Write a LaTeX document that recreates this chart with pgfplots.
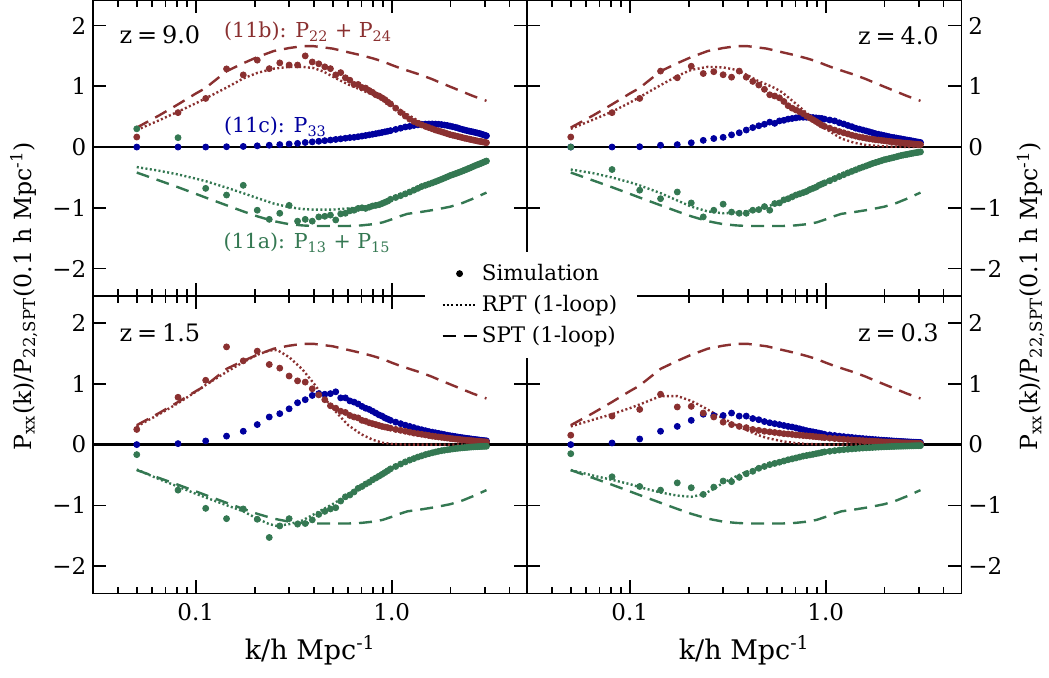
\documentclass[border=0pt]{standalone}
\usepackage{fontspec}
\setmainfont{DejaVu Serif}
\usepackage{pgfplots}
\usepackage{pgfplotstable}
\pgfplotsset{compat=1.18}

\definecolor{cR}{RGB}{138,48,48}
\definecolor{cB}{RGB}{0,0,158}
\definecolor{cG}{RGB}{52,120,82}

% simulation: k, (11b) red, (11c) blue, (11a) green
\pgfplotstableread{
k r b g
0.0500 0.165 0.000 0.300
0.0812 0.566 0.000 0.154
0.1124 0.800 0.000 -0.680
0.1436 1.286 0.005 -0.790
0.1748 1.187 0.010 -0.630
0.2060 1.430 0.020 -1.040
0.2372 1.290 0.030 -1.190
0.2684 1.385 0.040 -1.090
0.2996 1.350 0.050 -0.960
0.3308 1.350 0.060 -1.220
0.3620 1.500 0.075 -1.190
0.3932 1.400 0.085 -1.220
0.4244 1.370 0.095 -1.150
0.4556 1.320 0.105 -1.140
0.4868 1.290 0.115 -1.120
0.5180 1.187 0.125 -1.200
0.5492 1.225 0.135 -1.100
0.5804 1.140 0.145 -1.090
0.6116 1.100 0.155 -1.050
0.6428 1.030 0.160 -1.040
0.6740 1.030 0.170 -1.010
0.7052 0.980 0.180 -1.000
0.7364 0.970 0.190 -1.010
0.7676 0.930 0.200 -0.990
0.7988 0.900 0.210 -0.970
0.8300 0.860 0.220 -0.960
0.8612 0.840 0.230 -0.950
0.8924 0.810 0.240 -0.930
0.9236 0.780 0.250 -0.910
0.9548 0.740 0.260 -0.890
0.9860 0.710 0.270 -0.860
1.0484 0.640 0.290 -0.830
1.1108 0.570 0.310 -0.800
1.1732 0.510 0.330 -0.770
1.2356 0.460 0.340 -0.740
1.2980 0.420 0.355 -0.710
1.3604 0.390 0.365 -0.680
1.4228 0.365 0.375 -0.650
1.4852 0.340 0.378 -0.630
1.5476 0.320 0.380 -0.610
1.6100 0.300 0.380 -0.590
1.6724 0.280 0.378 -0.570
1.7348 0.265 0.375 -0.550
1.7972 0.250 0.370 -0.530
1.8596 0.235 0.362 -0.510
1.9220 0.220 0.355 -0.490
1.9844 0.205 0.345 -0.470
2.0468 0.195 0.335 -0.455
2.1092 0.185 0.325 -0.440
2.1716 0.175 0.315 -0.425
2.2340 0.165 0.300 -0.410
2.2964 0.155 0.290 -0.395
2.3588 0.145 0.280 -0.380
2.4212 0.138 0.270 -0.365
2.4836 0.130 0.262 -0.350
2.5460 0.122 0.255 -0.335
2.6084 0.115 0.248 -0.320
2.6708 0.108 0.240 -0.305
2.7332 0.100 0.232 -0.292
2.7956 0.095 0.225 -0.280
2.8580 0.090 0.215 -0.268
2.9204 0.085 0.205 -0.255
2.9828 0.078 0.195 -0.242
3.0452 0.072 0.185 -0.230
}\simA

\pgfplotstableread{
k r b g
0.0500 0.165 0.000 0.000
0.0812 0.566 0.000 -0.370
0.1124 0.800 0.005 -0.710
0.1436 1.250 0.030 -0.850
0.1748 1.140 0.040 -0.740
0.2060 1.330 0.070 -0.920
0.2372 1.210 0.110 -1.150
0.2684 1.240 0.140 -1.040
0.2996 1.190 0.160 -0.940
0.3308 1.150 0.200 -1.070
0.3620 1.250 0.235 -1.090
0.3932 1.150 0.280 -1.090
0.4244 1.080 0.320 -1.040
0.4556 1.020 0.350 -1.030
0.4868 0.950 0.375 -0.980
0.5180 0.860 0.410 -1.040
0.5492 0.840 0.390 -0.930
0.5804 0.810 0.430 -0.920
0.6116 0.750 0.440 -0.870
0.6428 0.680 0.460 -0.850
0.6740 0.640 0.470 -0.820
0.7052 0.610 0.480 -0.790
0.7364 0.580 0.490 -0.770
0.7676 0.550 0.490 -0.750
0.7988 0.510 0.490 -0.730
0.8300 0.480 0.490 -0.700
0.8612 0.450 0.485 -0.680
0.8924 0.420 0.480 -0.660
0.9236 0.390 0.475 -0.630
0.9548 0.360 0.470 -0.610
0.9860 0.340 0.460 -0.590
1.0484 0.310 0.445 -0.555
1.1108 0.280 0.430 -0.520
1.1732 0.255 0.400 -0.485
1.2356 0.235 0.380 -0.455
1.2980 0.215 0.355 -0.425
1.3604 0.195 0.335 -0.400
1.4228 0.180 0.310 -0.375
1.4852 0.165 0.295 -0.350
1.5476 0.155 0.280 -0.330
1.6100 0.145 0.265 -0.310
1.6724 0.135 0.250 -0.290
1.7348 0.128 0.235 -0.270
1.7972 0.120 0.220 -0.255
1.8596 0.115 0.210 -0.240
1.9220 0.110 0.200 -0.225
1.9844 0.104 0.190 -0.210
2.0468 0.098 0.180 -0.200
2.1092 0.093 0.170 -0.190
2.1716 0.088 0.160 -0.180
2.2340 0.083 0.155 -0.170
2.2964 0.079 0.148 -0.160
2.3588 0.075 0.140 -0.150
2.4212 0.071 0.135 -0.140
2.4836 0.067 0.128 -0.133
2.5460 0.064 0.120 -0.126
2.6084 0.060 0.115 -0.120
2.6708 0.057 0.110 -0.113
2.7332 0.054 0.103 -0.107
2.7956 0.051 0.097 -0.100
2.8580 0.048 0.090 -0.095
2.9204 0.046 0.085 -0.090
2.9828 0.043 0.080 -0.085
3.0452 0.040 0.075 -0.080
}\simB

\pgfplotstableread{
k r b g
0.0500 0.250 0.000 -0.165
0.0812 0.780 0.016 -0.750
0.1124 1.060 0.060 -1.050
0.1436 1.610 0.140 -1.220
0.1748 1.380 0.220 -1.060
0.2060 1.540 0.330 -1.230
0.2372 1.320 0.455 -1.530
0.2684 1.260 0.510 -1.340
0.2996 1.130 0.590 -1.220
0.3308 1.050 0.690 -1.310
0.3620 1.030 0.740 -1.300
0.3932 0.920 0.810 -1.240
0.4244 0.820 0.840 -1.150
0.4556 0.740 0.830 -1.100
0.4868 0.640 0.840 -1.060
0.5180 0.600 0.870 -1.040
0.5492 0.550 0.770 -0.930
0.5804 0.530 0.770 -0.860
0.6116 0.480 0.720 -0.830
0.6428 0.455 0.700 -0.780
0.6740 0.440 0.670 -0.720
0.7052 0.400 0.630 -0.690
0.7364 0.385 0.600 -0.650
0.7676 0.360 0.580 -0.620
0.7988 0.345 0.550 -0.580
0.8300 0.330 0.520 -0.550
0.8612 0.315 0.490 -0.520
0.8924 0.300 0.470 -0.490
0.9236 0.290 0.440 -0.460
0.9548 0.280 0.420 -0.430
0.9860 0.270 0.400 -0.400
1.0484 0.250 0.370 -0.360
1.1108 0.235 0.345 -0.320
1.1732 0.220 0.320 -0.285
1.2356 0.205 0.300 -0.255
1.2980 0.190 0.280 -0.230
1.3604 0.180 0.260 -0.205
1.4228 0.170 0.245 -0.185
1.4852 0.160 0.230 -0.165
1.5476 0.150 0.215 -0.150
1.6100 0.140 0.205 -0.135
1.6724 0.133 0.195 -0.122
1.7348 0.126 0.185 -0.110
1.7972 0.120 0.175 -0.100
1.8596 0.114 0.165 -0.092
1.9220 0.108 0.155 -0.085
1.9844 0.102 0.147 -0.078
2.0468 0.097 0.140 -0.072
2.1092 0.092 0.133 -0.066
2.1716 0.087 0.126 -0.061
2.2340 0.083 0.120 -0.057
2.2964 0.079 0.114 -0.053
2.3588 0.075 0.108 -0.049
2.4212 0.071 0.103 -0.046
2.4836 0.068 0.098 -0.043
2.5460 0.065 0.093 -0.040
2.6084 0.062 0.088 -0.038
2.6708 0.059 0.084 -0.036
2.7332 0.056 0.080 -0.034
2.7956 0.053 0.076 -0.032
2.8580 0.050 0.072 -0.030
2.9204 0.048 0.068 -0.029
2.9828 0.046 0.065 -0.028
3.0452 0.044 0.062 -0.027
}\simC

\pgfplotstableread{
k r b g
0.0500 0.155 0.000 -0.150
0.0812 0.470 0.027 -0.530
0.1124 0.580 0.093 -0.690
0.1436 0.830 0.220 -0.750
0.1748 0.620 0.300 -0.630
0.2060 0.630 0.400 -0.710
0.2372 0.520 0.500 -0.820
0.2684 0.455 0.480 -0.700
0.2996 0.370 0.480 -0.600
0.3308 0.330 0.520 -0.610
0.3620 0.300 0.470 -0.540
0.3932 0.280 0.470 -0.480
0.4244 0.250 0.430 -0.440
0.4556 0.235 0.410 -0.390
0.4868 0.220 0.380 -0.360
0.5180 0.210 0.360 -0.330
0.5492 0.200 0.345 -0.310
0.5804 0.190 0.330 -0.290
0.6116 0.180 0.315 -0.270
0.6428 0.175 0.300 -0.250
0.6740 0.168 0.290 -0.235
0.7052 0.160 0.275 -0.220
0.7364 0.155 0.260 -0.205
0.7676 0.150 0.245 -0.190
0.7988 0.145 0.230 -0.180
0.8300 0.140 0.220 -0.170
0.8612 0.135 0.210 -0.160
0.8924 0.130 0.200 -0.150
0.9236 0.125 0.190 -0.140
0.9548 0.120 0.180 -0.130
0.9860 0.115 0.170 -0.120
1.0484 0.107 0.160 -0.110
1.1108 0.100 0.150 -0.100
1.1732 0.094 0.140 -0.090
1.2356 0.088 0.132 -0.083
1.2980 0.083 0.125 -0.077
1.3604 0.078 0.118 -0.071
1.4228 0.074 0.111 -0.066
1.4852 0.070 0.105 -0.061
1.5476 0.066 0.100 -0.057
1.6100 0.062 0.095 -0.053
1.6724 0.059 0.090 -0.050
1.7348 0.056 0.086 -0.047
1.7972 0.053 0.082 -0.044
1.8596 0.050 0.078 -0.041
1.9220 0.048 0.074 -0.039
1.9844 0.045 0.071 -0.037
2.0468 0.043 0.068 -0.035
2.1092 0.041 0.065 -0.033
2.1716 0.039 0.062 -0.031
2.2340 0.037 0.059 -0.030
2.2964 0.035 0.057 -0.028
2.3588 0.033 0.054 -0.027
2.4212 0.031 0.052 -0.026
2.4836 0.030 0.050 -0.025
2.5460 0.028 0.048 -0.024
2.6084 0.027 0.046 -0.023
2.6708 0.025 0.044 -0.022
2.7332 0.024 0.042 -0.021
2.7956 0.023 0.040 -0.020
2.8580 0.022 0.039 -0.019
2.9204 0.021 0.037 -0.018
2.9828 0.020 0.036 -0.018
3.0452 0.019 0.035 -0.017
}\simD

% SPT 1-loop (same in every panel): k, (11b), (11a)
\pgfplotstableread{
k r g
0.050 0.32 -0.42
0.065 0.52 -0.55
0.081 0.70 -0.66
0.100 0.88 -0.77
0.112 0.97 -0.83
0.144 1.25 -0.96
0.175 1.38 -1.06
0.206 1.48 -1.14
0.250 1.58 -1.22
0.300 1.63 -1.27
0.350 1.66 -1.29
0.400 1.66 -1.30
0.500 1.62 -1.30
0.600 1.56 -1.30
0.700 1.51 -1.29
0.800 1.46 -1.27
0.900 1.41 -1.24
1.000 1.35 -1.19
1.100 1.30 -1.14
1.200 1.26 -1.10
1.400 1.19 -1.07
1.600 1.12 -1.04
1.800 1.05 -1.01
2.000 0.99 -0.98
2.300 0.91 -0.92
2.600 0.84 -0.85
3.045 0.76 -0.75
}\sptTab

% RPT 1-loop per redshift
\pgfplotstableread{
k r g
0.050 0.28 -0.33
0.065 0.44 -0.39
0.081 0.58 -0.45
0.100 0.72 -0.52
0.112 0.80 -0.56
0.144 0.98 -0.67
0.175 1.13 -0.76
0.206 1.22 -0.84
0.250 1.29 -0.93
0.300 1.32 -0.99
0.350 1.32 -1.02
0.400 1.30 -1.03
0.450 1.24 -1.03
0.500 1.16 -1.03
0.550 1.09 -1.02
0.600 1.03 -1.01
0.700 0.94 -0.99
0.800 0.86 -0.96
0.900 0.78 -0.92
1.000 0.70 -0.87
1.200 0.54 -0.77
1.400 0.41 -0.68
1.600 0.32 -0.60
2.000 0.21 -0.45
2.500 0.13 -0.31
3.045 0.08 -0.23
}\rptA

\pgfplotstableread{
k r g
0.050 0.30 -0.37
0.065 0.45 -0.43
0.081 0.58 -0.50
0.100 0.73 -0.58
0.112 0.82 -0.63
0.144 1.02 -0.76
0.175 1.17 -0.88
0.206 1.27 -0.98
0.250 1.32 -1.06
0.300 1.31 -1.09
0.350 1.27 -1.08
0.400 1.18 -1.05
0.450 1.09 -1.02
0.500 1.03 -0.98
0.550 0.97 -0.94
0.600 0.90 -0.89
0.700 0.72 -0.80
0.800 0.56 -0.72
0.900 0.42 -0.64
1.000 0.30 -0.56
1.200 0.14 -0.44
1.400 0.07 -0.36
1.600 0.035 -0.29
2.000 0.01 -0.19
2.500 0.003 -0.12
3.045 0.0 -0.08
}\rptB

\pgfplotstableread{
k r g
0.050 0.30 -0.41
0.065 0.50 -0.57
0.081 0.68 -0.69
0.100 0.87 -0.81
0.112 0.98 -0.87
0.144 1.20 -1.00
0.175 1.36 -1.10
0.206 1.48 -1.22
0.237 1.55 -1.31
0.260 1.56 -1.34
0.300 1.44 -1.31
0.350 1.24 -1.25
0.400 1.01 -1.15
0.450 0.78 -1.06
0.500 0.60 -0.98
0.550 0.45 -0.90
0.600 0.32 -0.82
0.700 0.17 -0.68
0.800 0.08 -0.56
0.900 0.03 -0.46
1.000 0.01 -0.38
1.200 0.00 -0.26
1.500 0.00 -0.15
2.000 0.00 -0.07
2.500 0.00 -0.04
3.045 0.00 -0.027
}\rptC

\pgfplotstableread{
k r g
0.050 0.30 -0.42
0.065 0.41 -0.51
0.081 0.50 -0.58
0.100 0.60 -0.65
0.112 0.66 -0.70
0.144 0.80 -0.79
0.175 0.80 -0.84
0.206 0.72 -0.86
0.237 0.62 -0.82
0.268 0.52 -0.73
0.300 0.43 -0.63
0.350 0.32 -0.52
0.400 0.23 -0.44
0.450 0.16 -0.38
0.500 0.11 -0.33
0.600 0.055 -0.26
0.700 0.025 -0.20
0.800 0.01 -0.16
1.000 0.00 -0.10
1.500 0.00 -0.045
2.000 0.00 -0.027
3.045 0.00 -0.017
}\rptD

\newcommand{\fsz}[1]{\fontsize{#1}{#1}\selectfont}

\pgfplotsset{
  every axis/.append style={
    scale only axis, width=217pt,
    xmin=0.03, xmax=4.92, ymin=-2.45,
    xtick={0.1,1},
    minor xtick={0.04,0.05,0.06,0.07,0.08,0.09,0.2,0.3,0.4,0.5,0.6,0.7,0.8,0.9,2,3,4},
    ytick={-2,-1,0,1,2},
    yticklabels={−2,−1,0,1,2},
    tick align=inside,
    major tick length=6.5pt, minor tick length=3.3pt,
    axis line style={line width=0.8pt},
    tick style={black, line width=0.8pt},
    tick label style={font=\fsz{11.5}},
  },
}
\tikzset{
  mySim/.style={mark=*, mark size=1.5pt, draw=none},
  mySpt/.style={line width=1.2pt, dash pattern=on 6.5pt off 4pt},
  myRpt/.style={line width=1.2pt, dash pattern=on 1pt off 1.2pt},
  myZero/.style={black, line width=1.3pt},
}

\begin{document}
\begin{tikzpicture}
\useasboundingbox (-46.65pt,-41.85pt) rectangle (477.85pt,296.65pt);

% z = 9.0
\begin{semilogxaxis}[at={(0pt,148.7pt)}, anchor=south west,
  ymax=2.42, height=147.95pt, xticklabels={},
  yticklabel pos=left, xtick pos=both, ytick pos=both]
\addplot[myZero, forget plot] coordinates {(0.03,0) (4.92,0)};
\addplot[cR, mySpt, forget plot] table[x=k, y=r] {\sptTab};
\addplot[cG, mySpt, forget plot] table[x=k, y=g] {\sptTab};
\addplot[cR, myRpt, forget plot] table[x=k, y=r] {\rptA};
\addplot[cG, myRpt, forget plot] table[x=k, y=g] {\rptA};
\addplot[cB, only marks, mySim, forget plot] table[x=k, y=b] {\simA};
\addplot[cR, only marks, mySim, forget plot] table[x=k, y=r] {\simA};
\addplot[cG, only marks, mySim, forget plot] table[x=k, y=g] {\simA};
\node[anchor=west, inner sep=0pt, font=\fsz{12}] at (axis cs:0.0407,1.85) {z\hspace{0.2em}=\hspace{0.2em}9.0};
\node[anchor=west, inner sep=0pt, text=cR, font=\fsz{10.3}] at (axis cs:0.139,1.90) {(11b): P\textsubscript{22} + P\textsubscript{24}};
\node[anchor=west, inner sep=0pt, text=cB, font=\fsz{10.3}] at (axis cs:0.139,0.335) {(11c): P\textsubscript{33}};
\node[anchor=west, inner sep=0pt, text=cG, font=\fsz{10.3}] at (axis cs:0.138,-1.58) {(11a): P\textsubscript{13} + P\textsubscript{15}};
\end{semilogxaxis}

% z = 4.0
\begin{semilogxaxis}[at={(217pt,148.7pt)}, anchor=south west,
  ymax=2.42, height=147.95pt, xticklabels={},
  yticklabel pos=right, xtick pos=both, ytick pos=both]
\addplot[myZero, forget plot] coordinates {(0.03,0) (4.92,0)};
\addplot[cR, mySpt, forget plot] table[x=k, y=r] {\sptTab};
\addplot[cG, mySpt, forget plot] table[x=k, y=g] {\sptTab};
\addplot[cR, myRpt, forget plot] table[x=k, y=r] {\rptB};
\addplot[cG, myRpt, forget plot] table[x=k, y=g] {\rptB};
\addplot[cB, only marks, mySim, forget plot] table[x=k, y=b] {\simB};
\addplot[cR, only marks, mySim, forget plot] table[x=k, y=r] {\simB};
\addplot[cG, only marks, mySim, forget plot] table[x=k, y=g] {\simB};
\node[anchor=east, inner sep=0pt, font=\fsz{12}] at (axis cs:3.79,1.83) {z\hspace{0.2em}=\hspace{0.2em}4.0};
\end{semilogxaxis}

% z = 1.5
\begin{semilogxaxis}[at={(0pt,0pt)}, anchor=south west,
  ymax=2.45, height=148.7pt, xticklabels={0.1,1.0},
  xticklabel style={anchor=center, yshift=-9.6pt},
  xlabel={k/h Mpc\textsuperscript{-1}},
  xlabel style={font=\fsz{13.5}, at={(axis description cs:0.5,0)}, anchor=center, yshift=-28.6pt},
  yticklabel pos=left, xtick pos=both, ytick pos=both]
\addplot[myZero, forget plot] coordinates {(0.03,0) (4.92,0)};
\addplot[cR, mySpt, forget plot] table[x=k, y=r] {\sptTab};
\addplot[cG, mySpt, forget plot] table[x=k, y=g] {\sptTab};
\addplot[cR, myRpt, forget plot] table[x=k, y=r] {\rptC};
\addplot[cG, myRpt, forget plot] table[x=k, y=g] {\rptC};
\addplot[cB, only marks, mySim, forget plot] table[x=k, y=b] {\simC};
\addplot[cR, only marks, mySim, forget plot] table[x=k, y=r] {\simC};
\addplot[cG, only marks, mySim, forget plot] table[x=k, y=g] {\simC};
\node[anchor=west, inner sep=0pt, font=\fsz{12}] at (axis cs:0.0407,1.84) {z\hspace{0.2em}=\hspace{0.2em}1.5};
\end{semilogxaxis}

% z = 0.3, carries the legend so that it is drawn on top
\begin{semilogxaxis}[at={(217pt,0pt)}, anchor=south west,
  ymax=2.45, height=148.7pt, xticklabels={0.1,1.0},
  xticklabel style={anchor=center, yshift=-9.6pt},
  xlabel={k/h Mpc\textsuperscript{-1}},
  xlabel style={font=\fsz{13.5}, at={(axis description cs:0.5,0)}, anchor=center, yshift=-28.6pt},
  yticklabel pos=right, xtick pos=both, ytick pos=both,
  legend style={at={(0,1)}, anchor=center, xshift=2pt, yshift=-4.5pt,
    fill=white, draw=none, font=\fsz{10.7}, row sep=2pt,
    cells={anchor=west}, inner xsep=8pt, inner ysep=4pt}]
\addlegendimage{only marks, mark=*, mark size=1.5pt, black}
\addlegendentry{Simulation}
\addlegendimage{black, line width=1.2pt, dash pattern=on 1pt off 1.2pt}
\addlegendentry{RPT (1-loop)}
\addlegendimage{black, line width=1.2pt, dash pattern=on 6.5pt off 4pt}
\addlegendentry{SPT (1-loop)}
\addplot[myZero, forget plot] coordinates {(0.03,0) (4.92,0)};
\addplot[cR, mySpt, forget plot] table[x=k, y=r] {\sptTab};
\addplot[cG, mySpt, forget plot] table[x=k, y=g] {\sptTab};
\addplot[cR, myRpt, forget plot] table[x=k, y=r] {\rptD};
\addplot[cG, myRpt, forget plot] table[x=k, y=g] {\rptD};
\addplot[cB, only marks, mySim, forget plot] table[x=k, y=b] {\simD};
\addplot[cR, only marks, mySim, forget plot] table[x=k, y=r] {\simD};
\addplot[cG, only marks, mySim, forget plot] table[x=k, y=g] {\simD};
\node[anchor=east, inner sep=0pt, font=\fsz{12}] at (axis cs:3.79,1.84) {z\hspace{0.2em}=\hspace{0.2em}0.3};
\end{semilogxaxis}

\node[rotate=90, font=\fsz{11.8}] at (-34.8pt,148.6pt) {P\textsubscript{xx}(k)/P\textsubscript{22,SPT}(0.1 h Mpc\textsuperscript{-1})};
\node[rotate=90, font=\fsz{11.8}] at (468.6pt,148.6pt) {P\textsubscript{xx}(k)/P\textsubscript{22,SPT}(0.1 h Mpc\textsuperscript{-1})};
\end{tikzpicture}
\end{document}
